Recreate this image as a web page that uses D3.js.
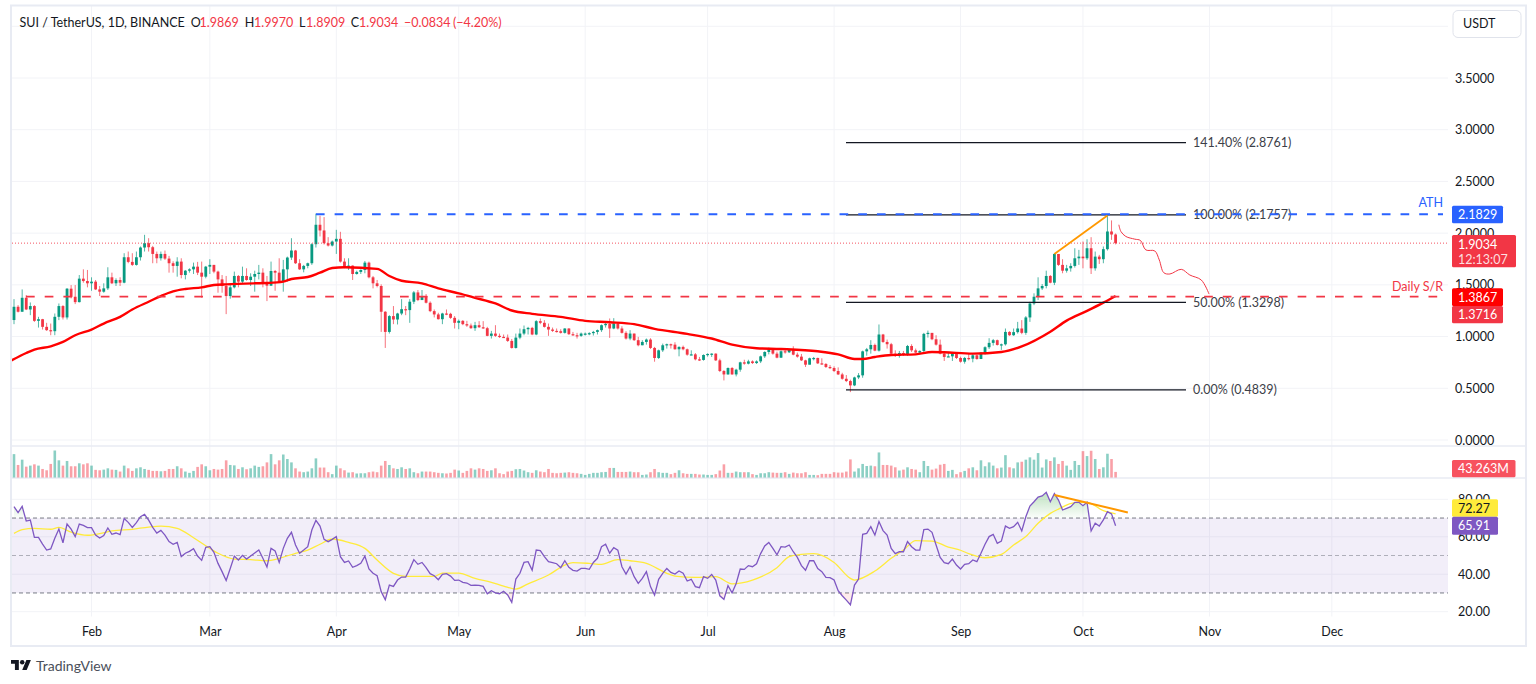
<!DOCTYPE html>
<html>
<head>
<meta charset="utf-8">
<title>SUI / TetherUS</title>
<script src="https://cdn.jsdelivr.net/npm/d3@7/dist/d3.min.js"></script>
<style>
  html, body { margin: 0; padding: 0; background: #fff; }
  svg { display: block; }
  text { font-family: "Lato", sans-serif; }
</style>
</head>
<body>
<svg id="chart" width="1536" height="684"></svg>
<script>
// daily bars, first one is 13 Jan 2024
const closes = [
  1.288,1.240,1.375,1.262,1.295,1.152,1.168,1.094,1.062,1.052,
  1.191,1.295,1.185,1.463,1.385,1.333,1.560,1.537,1.515,1.531,
  1.456,1.434,1.466,1.573,1.515,1.547,1.521,1.767,1.722,1.693,
  1.767,1.861,1.903,1.864,1.799,1.757,1.799,1.754,1.709,1.683,
  1.725,1.595,1.637,1.650,1.676,1.618,1.579,1.676,1.693,1.628,
  1.553,1.489,1.392,1.476,1.586,1.531,1.586,1.547,1.579,1.605,
  1.618,1.515,1.492,1.634,1.618,1.531,1.650,1.764,1.832,1.709,
  1.650,1.683,1.709,1.893,2.081,2.026,1.903,1.880,1.919,1.945,
  1.725,1.667,1.686,1.605,1.625,1.644,1.715,1.573,1.515,1.489,
  1.240,1.045,1.198,1.165,1.223,1.265,1.256,1.337,1.427,1.353,
  1.392,1.327,1.246,1.214,1.168,1.223,1.220,1.181,1.133,1.152,
  1.120,1.107,1.081,1.110,1.090,1.081,1.007,1.029,1.007,0.997,
  0.990,0.958,0.890,0.990,1.029,1.071,1.084,1.020,1.149,1.133,
  1.094,1.068,1.055,1.052,1.036,1.078,1.023,1.013,1.007,1.029,
  1.029,1.033,1.045,1.062,1.110,1.123,1.078,1.126,1.078,1.036,
  0.981,1.029,0.965,0.916,0.948,0.971,0.890,0.793,0.867,0.916,
  0.926,0.922,0.877,0.900,0.877,0.825,0.828,0.780,0.774,0.822,
  0.832,0.835,0.770,0.667,0.634,0.696,0.634,0.680,0.751,0.738,
  0.760,0.744,0.760,0.809,0.851,0.877,0.835,0.796,0.858,0.848,
  0.871,0.825,0.806,0.770,0.728,0.790,0.793,0.741,0.735,0.706,
  0.696,0.667,0.634,0.592,0.570,0.528,0.605,0.625,0.857,0.877,
  0.919,0.864,1.020,0.948,0.926,0.835,0.812,0.841,0.825,0.909,
  0.867,0.845,0.861,1.026,1.036,0.974,0.922,0.835,0.803,0.809,
  0.835,0.793,0.757,0.793,0.786,0.819,0.783,0.845,0.897,0.939,
  0.965,0.919,0.925,1.045,1.013,1.043,1.078,1.036,1.185,1.320,
  1.385,1.466,1.489,1.586,1.521,1.799,1.693,1.637,1.660,1.683,
  1.757,1.773,1.757,1.854,1.660,1.773,1.748,1.845,2.016,1.9869,
  1.9034
];
const highs = [
  1.362,1.304,1.456,1.401,1.330,1.304,1.191,1.171,1.133,1.126,
  1.223,1.320,1.304,1.469,1.498,1.498,1.595,1.650,1.644,1.573,
  1.547,1.489,1.515,1.670,1.618,1.563,1.573,1.806,1.822,1.806,
  1.822,1.871,1.984,1.951,1.877,1.822,1.822,1.832,1.780,1.728,
  1.767,1.757,1.644,1.660,1.715,1.722,1.725,1.683,1.748,1.693,
  1.637,1.595,1.586,1.515,1.628,1.595,1.676,1.660,1.612,1.637,
  1.693,1.660,1.586,1.725,1.644,1.757,1.741,1.773,1.951,1.838,
  1.748,1.693,1.715,1.903,2.188,2.168,2.155,1.961,1.929,2.032,
  2.013,1.757,1.757,1.689,1.637,1.650,1.731,1.725,1.586,1.547,
  1.505,1.246,1.207,1.295,1.230,1.362,1.295,1.362,1.440,1.450,
  1.450,1.411,1.340,1.262,1.230,1.230,1.262,1.230,1.198,1.165,
  1.159,1.152,1.126,1.142,1.149,1.149,1.094,1.055,1.110,1.029,
  1.020,1.020,0.977,1.029,1.078,1.107,1.094,1.094,1.159,1.175,
  1.159,1.126,1.087,1.078,1.071,1.081,1.081,1.045,1.036,1.039,
  1.039,1.042,1.055,1.068,1.117,1.142,1.175,1.178,1.133,1.100,
  1.052,1.062,1.029,0.997,0.965,0.981,0.984,0.900,0.874,0.932,
  0.932,0.932,0.945,0.906,0.913,0.884,0.867,0.841,0.803,0.828,
  0.838,0.838,0.838,0.786,0.676,0.702,0.706,0.689,0.757,0.776,
  0.776,0.770,0.770,0.816,0.858,0.893,0.884,0.854,0.867,0.884,
  0.877,0.906,0.845,0.832,0.776,0.796,0.803,0.796,0.790,0.744,
  0.725,0.712,0.702,0.650,0.628,0.583,0.612,0.647,0.864,0.890,
  0.965,0.932,1.117,1.026,0.971,0.939,0.867,0.861,0.861,0.919,
  0.926,0.884,0.867,1.036,1.058,1.029,1.013,0.971,0.851,0.851,
  0.851,0.841,0.806,0.803,0.835,0.835,0.825,0.851,0.906,0.984,
  0.977,0.971,0.932,1.078,1.052,1.078,1.142,1.159,1.198,1.337,
  1.418,1.573,1.508,1.637,1.595,1.806,1.780,1.748,1.693,1.709,
  1.854,1.838,1.919,1.941,1.961,1.822,1.790,1.871,2.171,2.123,
  1.9970
];
const lows = [
  1.120,1.233,1.240,1.256,1.207,1.142,1.087,1.068,1.055,1.013,
  1.013,1.159,1.165,1.165,1.369,1.314,1.330,1.521,1.476,1.443,
  1.450,1.392,1.424,1.450,1.508,1.489,1.489,1.515,1.709,1.683,
  1.686,1.735,1.822,1.822,1.709,1.709,1.735,1.741,1.618,1.618,
  1.579,1.563,1.553,1.618,1.605,1.595,1.375,1.563,1.605,1.612,
  1.424,1.424,1.217,1.366,1.466,1.476,1.515,1.540,1.489,1.434,
  1.553,1.476,1.343,1.489,1.443,1.521,1.434,1.531,1.741,1.702,
  1.644,1.621,1.660,1.693,1.861,1.968,1.890,1.871,1.871,1.799,
  1.715,1.660,1.644,1.547,1.599,1.605,1.612,1.563,1.466,1.476,
  1.045,0.890,1.029,1.120,1.117,1.207,1.207,1.133,1.314,1.343,
  1.362,1.320,1.236,1.185,1.165,1.120,1.207,1.171,1.078,1.071,
  1.110,1.094,1.075,1.055,1.084,1.075,1.003,0.981,0.997,0.987,
  0.987,0.948,0.884,0.884,0.974,1.013,1.020,1.013,1.013,1.120,
  1.087,1.007,1.045,1.039,1.029,1.029,1.016,1.007,0.981,0.997,
  1.010,1.013,1.010,1.020,1.045,1.087,0.987,1.071,1.068,1.029,
  0.971,0.965,0.958,0.906,0.916,0.922,0.880,0.757,0.783,0.851,
  0.884,0.884,0.874,0.809,0.867,0.815,0.819,0.770,0.764,0.767,
  0.806,0.803,0.764,0.657,0.576,0.631,0.631,0.615,0.660,0.728,
  0.731,0.735,0.735,0.744,0.793,0.828,0.825,0.790,0.793,0.835,
  0.841,0.819,0.796,0.764,0.706,0.731,0.770,0.735,0.728,0.696,
  0.686,0.657,0.628,0.583,0.560,0.463,0.521,0.589,0.602,0.815,
  0.835,0.858,0.855,0.939,0.884,0.819,0.803,0.796,0.812,0.812,
  0.851,0.838,0.832,0.841,0.990,0.965,0.913,0.828,0.764,0.803,
  0.764,0.783,0.748,0.738,0.770,0.751,0.776,0.786,0.825,0.880,
  0.913,0.913,0.871,0.913,1.007,1.007,1.029,1.023,1.017,1.142,
  1.304,1.353,1.450,1.466,1.515,1.498,1.683,1.612,1.618,1.628,
  1.667,1.693,1.660,1.741,1.605,1.637,1.702,1.709,1.832,1.935,
  1.8909
];
const firstOpen = 1.16;
const volumes = [
  181,97,138,84,92,102,92,66,56,105,
  209,133,92,128,87,87,110,102,110,92,
  59,56,61,71,61,59,46,92,71,51,
  71,79,66,59,51,51,48,51,66,66,
  87,71,46,36,51,82,102,87,56,66,
  61,66,133,97,94,66,79,64,71,92,
  82,87,117,181,102,133,178,143,117,71,
  46,41,46,71,148,77,77,41,26,92,
  71,56,38,41,31,33,33,41,46,41,
  92,128,97,71,66,79,66,71,41,33,
  46,46,46,41,36,33,31,36,61,54,
  36,51,71,61,71,66,51,56,71,33,
  26,46,51,64,66,54,41,36,56,46,
  41,66,36,33,36,38,41,36,33,28,
  20,28,36,36,41,43,74,74,43,43,
  43,46,41,41,20,23,41,66,41,36,
  36,26,36,56,33,28,28,28,23,23,
  20,20,26,54,102,36,36,46,41,41,
  41,26,20,33,33,41,38,36,36,41,
  28,38,33,33,41,20,20,18,28,28,
  28,41,38,38,46,140,46,71,105,89,
  92,87,194,97,97,92,79,54,61,79,
  66,61,41,128,89,61,69,99,105,51,
  59,26,41,51,71,79,56,133,87,117,
  92,71,77,173,79,71,117,122,138,156,
  138,189,77,140,128,156,105,128,92,59,
  128,97,204,166,207,143,66,79,184,143,
  43.263
];
const rsi = [
  76.1,72.9,76.2,68.4,68.9,59.7,59.7,56.1,52.9,53.5,
  59.2,64.1,56.8,66.8,64.1,60.1,66.8,66.1,64.9,64.9,
  60.9,59.3,60.6,64.7,61.3,62.0,61.1,69.8,67.7,65.0,
  67.5,70.7,72.0,68.9,65.0,62.0,63.4,60.9,57.4,56.0,
  57.0,49.4,51.2,52.2,53.6,49.7,47.4,54.4,54.7,51.7,
  45.8,41.4,36.7,43.1,49.7,47.6,50.1,48.1,49.7,51.3,
  52.9,48.5,43.9,53.8,52.4,46.3,53.8,59.2,62.4,55.6,
  51.2,52.9,54.7,63.6,68.8,65.7,58.6,57.4,58.6,60.1,
  49.4,46.3,47.1,43.7,44.6,45.8,49.7,42.8,40.5,39.2,
  30.7,26.4,34.2,33.5,36.9,38.5,38.5,42.8,47.8,45.3,
  46.3,43.5,40.3,39.2,37.1,39.9,40.3,39.0,36.7,36.9,
  35.7,35.3,34.1,34.2,34.1,33.5,29.6,31.2,30.1,29.6,
  30.9,28.9,25.0,37.4,40.5,46.3,46.7,42.2,52.9,52.6,
  49.4,46.7,46.2,45.6,43.5,47.2,43.7,42.1,41.7,43.1,
  43.1,42.6,46.3,48.5,54.7,56.0,51.2,54.2,52.9,44.0,
  40.1,44.0,38.7,35.1,37.8,41.4,33.4,28.9,37.3,40.5,
  43.1,41.0,40.1,41.7,40.5,36.4,37.3,33.4,32.8,38.7,
  37.8,39.9,36.9,28.5,26.6,33.9,30.1,35.1,42.8,42.6,
  44.6,44.0,45.6,51.0,55.1,57.0,53.8,50.4,54.7,54.5,
  55.6,52.0,49.0,44.6,42.1,47.2,47.2,43.0,41.4,38.3,
  38.2,36.9,31.2,28.5,26.2,23.7,34.2,37.4,61.3,61.8,
  65.4,60.9,68.1,63.3,60.9,53.8,51.0,52.0,52.0,57.4,
  54.7,52.9,52.9,63.8,64.1,62.4,55.6,49.0,46.2,45.6,
  48.1,44.9,42.8,45.3,45.6,47.6,46.7,51.2,56.0,60.1,
  61.3,56.5,57.7,65.7,64.5,65.4,67.7,63.1,70.7,76.4,
  78.7,81.2,81.8,83.7,78.7,83.0,79.6,74.3,75.2,76.1,
  78.4,78.4,76.6,78.4,63.1,67.2,65.7,69.0,73.4,72.2,
  65.91
];
// the two averages are read at bends only, bar number + value
const emaBars = [-1,3,5,9,12,15,19,22,26,29,33,36,39,42,46,49,52,59,62,66,68,72,75,78,81,89,92,95,100,104,109,113,118,122,127,134,140,146,152,157,165,171,176,182,188,197,202,206,208,211,215,221,225,228,235,242,247,254,258,263,267,270];
const emaValues = [0.761,0.841,0.874,0.906,0.948,1.013,1.068,1.126,1.191,1.262,1.337,1.392,1.437,1.460,1.476,1.498,1.505,1.515,1.518,1.531,1.557,1.576,1.618,1.663,1.670,1.654,1.586,1.540,1.515,1.466,1.418,1.375,1.320,1.252,1.220,1.191,1.152,1.139,1.120,1.075,1.026,0.981,0.922,0.887,0.880,0.858,0.828,0.783,0.783,0.803,0.822,0.828,0.851,0.848,0.835,0.851,0.905,1.047,1.154,1.248,1.328,1.393];
const rsiMaBars = [0,2,5,9,11,14,18,21,24,29,33,36,40,44,47,50,54,58,62,65,69,72,75,78,82,86,89,93,96,103,105,109,113,117,120,123,126,131,135,137,141,144,148,151,155,160,162,167,172,176,181,187,190,193,196,201,205,206,211,215,218,221,225,229,232,234,238,242,245,248,251,254,256,260,263,267,270];
const rsiMaValues = [61.8,63.8,64.5,64.0,65.0,62.5,60.8,61.7,63.1,64.0,65.2,65.7,64.5,59.5,55.2,51.2,48.1,47.8,47.2,48.5,51.2,52.9,56.0,58.8,57.0,53.8,47.6,40.5,38.9,38.9,40.6,40.6,37.8,35.7,33.7,32.1,34.9,39.6,44.9,46.2,45.8,45.3,47.8,47.2,45.8,40.5,39.0,38.3,38.7,34.9,36.9,43.5,49.4,50.6,51.0,46.3,37.8,36.9,41.7,48.5,52.9,57.9,57.7,54.5,52.8,51.0,48.8,50.6,55.6,60.1,67.2,72.5,74.8,78.2,78.4,73.9,72.27];
// hand drawn projection
const sketchBars = [270.8,271.3,272.5,274.7,276.1,277.4,279.6,280.7,281.8,283.3,286.1,288.2,291,292.9];
const sketchValues = [2.081,2.016,1.968,1.942,1.929,1.838,1.828,1.741,1.618,1.605,1.650,1.595,1.547,1.411];
const fibLevels = ['141.40%','100.00%','50.00%','0.00%'];
const fibValues = [2.8761,2.1757,1.3298,0.4839];
const priceTicks = [0,0.5,1,1.5,2,2.5,3,3.5];
const rsiTicks = [20,40,60,80];
const rsiLevels = [70,50,30];
const athLevel = 2.1829;
const srLevel = 1.3867;
const emaLast = 1.3716;

const GREEN = '#089981', RED = '#f23645', BLUE = '#2962ff', ORANGE = '#ff9800';
const PURPLE = '#7e57c2', YELLOW = '#ffeb3b', GRID = '#f2f3f7', INK = '#131722', EDGE = '#e8ebf3';
const FONT = '"Lato", sans-serif';
const paneLeft = 12, paneRight = 1448, frameRight = 1526;
const DAY_PX = 4.08;

const svg = d3.select('#chart');
const firstDay = new Date(Date.UTC(2024, 0, 13));
const lastDay = d3.utcDay.offset(firstDay, 360);
const x = d3.scaleUtc().domain([firstDay, lastDay]).range([14, 14 + 360 * DAY_PX]);
const xBar = i => x(firstDay) + i * DAY_PX;
const y = d3.scaleLinear().domain([0, 3.5]).range([440, 78]);
const yVol = d3.scaleLinear().domain([0, 209]).range([477.5, 450.5]);
const yRsi = d3.scaleLinear().domain([20, 80]).range([611.7, 499.3]);

const bars = closes.map((c, i) => ({
  i, close: c, high: highs[i], low: lows[i],
  open: i ? closes[i - 1] : firstOpen,
  volume: volumes[i], rsi: rsi[i]
}));

const defs = svg.append('defs');
defs.append('clipPath').attr('id', 'pane').append('rect')
  .attr('x', paneLeft).attr('y', 6).attr('width', paneRight - paneLeft).attr('height', 611);
defs.append('clipPath').attr('id', 'above70').append('rect')
  .attr('x', paneLeft).attr('y', 480).attr('width', paneRight - paneLeft).attr('height', yRsi(70) - 480);
defs.append('clipPath').attr('id', 'below30').append('rect')
  .attr('x', paneLeft).attr('y', yRsi(30)).attr('width', paneRight - paneLeft).attr('height', 40);
const grad = defs.append('linearGradient').attr('id', 'obFill')
  .attr('gradientUnits', 'userSpaceOnUse').attr('x1', 0).attr('x2', 0).attr('y1', yRsi(85)).attr('y2', yRsi(70));
grad.append('stop').attr('offset', 0).attr('stop-color', '#4caf50').attr('stop-opacity', 0.4);
grad.append('stop').attr('offset', 1).attr('stop-color', '#4caf50').attr('stop-opacity', 0.02);

// grid first
const monthTicks = d3.utcMonth.range(new Date(Date.UTC(2024, 1, 1)), new Date(Date.UTC(2024, 11, 2)));
svg.append('g').selectAll('line').data(monthTicks).join('line')
  .attr('x1', d => x(d)).attr('x2', d => x(d)).attr('y1', 6).attr('y2', 616.5)
  .attr('stroke', GRID).attr('stroke-width', 1);
svg.append('g').selectAll('line').data([...priceTicks, 4]).join('line')
  .attr('x1', paneLeft).attr('x2', paneRight).attr('y1', d => y(d)).attr('y2', d => y(d))
  .attr('stroke', GRID).attr('stroke-width', 1);
svg.append('g').selectAll('line').data(rsiTicks).join('line')
  .attr('x1', paneLeft).attr('x2', paneRight).attr('y1', d => yRsi(d)).attr('y2', d => yRsi(d))
  .attr('stroke', GRID).attr('stroke-width', 1);

// frame and pane separators
svg.append('rect').attr('x', 11).attr('y', 5.5).attr('width', frameRight - 11).attr('height', 640.5)
  .attr('fill', 'none').attr('stroke', EDGE).attr('stroke-width', 2);
svg.append('g').selectAll('line').data([446, 478]).join('line')
  .attr('x1', 11).attr('x2', frameRight).attr('y1', d => d).attr('y2', d => d)
  .attr('stroke', EDGE).attr('stroke-width', 1.5);

// rsi pane
svg.append('rect').attr('x', paneLeft).attr('width', paneRight - paneLeft)
  .attr('y', yRsi(70)).attr('height', yRsi(30) - yRsi(70))
  .attr('fill', PURPLE).attr('fill-opacity', 0.1);
svg.append('g').selectAll('line').data(rsiLevels).join('line')
  .attr('x1', paneLeft).attr('x2', paneRight).attr('y1', d => yRsi(d)).attr('y2', d => yRsi(d))
  .attr('stroke', '#787b86').attr('stroke-width', 1).attr('stroke-dasharray', '4 3')
  .attr('stroke-opacity', d => d === 50 ? 0.55 : 1);
const rsiArea = level => d3.area().x(d => xBar(d.i)).y0(yRsi(level)).y1(d => yRsi(d.rsi));
svg.append('path').datum(bars).attr('d', rsiArea(70))
  .attr('clip-path', 'url(#above70)').attr('fill', 'url(#obFill)');
svg.append('path').datum(bars).attr('d', rsiArea(30))
  .attr('clip-path', 'url(#below30)').attr('fill', RED).attr('fill-opacity', 0.1);
const lineMaRsi = d3.line().x((d, i) => xBar(rsiMaBars[i])).y(d => yRsi(d)).curve(d3.curveMonotoneX);
svg.append('path').attr('d', lineMaRsi(rsiMaValues))
  .attr('fill', 'none').attr('stroke', YELLOW).attr('stroke-width', 1.3);
const lineRsi = d3.line().x(d => xBar(d.i)).y(d => yRsi(d.rsi));
svg.append('path').datum(bars).attr('d', lineRsi)
  .attr('fill', 'none').attr('stroke', PURPLE).attr('stroke-width', 1.3);
const rsiTrend = d3.line().x(d => xBar(d[0])).y(d => yRsi(d[1]));
svg.append('path').attr('d', rsiTrend([[255, 82.3], [273, 73]]))
  .attr('stroke', ORANGE).attr('stroke-width', 2).attr('fill', 'none');

// volume
svg.append('g').selectAll('rect').data(bars).join('rect')
  .attr('x', d => xBar(d.i) - 1.3).attr('width', 2.6)
  .attr('y', d => yVol(d.volume)).attr('height', d => yVol(0) - yVol(d.volume))
  .attr('fill', d => d.close >= d.open ? GREEN : RED).attr('fill-opacity', 0.47);

// candles
const candles = svg.append('g').attr('clip-path', 'url(#pane)');
candles.selectAll('line').data(bars).join('line')
  .attr('x1', d => xBar(d.i)).attr('x2', d => xBar(d.i))
  .attr('y1', d => y(d.high)).attr('y2', d => y(d.low))
  .attr('stroke', d => d.close >= d.open ? GREEN : RED).attr('stroke-width', 1).attr('stroke-opacity', 0.7);
candles.selectAll('rect').data(bars).join('rect')
  .attr('x', d => xBar(d.i) - 1.4).attr('width', 2.8)
  .attr('y', d => y(Math.max(d.open, d.close)))
  .attr('height', d => Math.max(1.2, Math.abs(y(d.open) - y(d.close))))
  .attr('fill', d => d.close >= d.open ? GREEN : RED);

// last price dotted
svg.append('line').attr('x1', paneLeft).attr('x2', paneRight)
  .attr('y1', y(closes[closes.length - 1])).attr('y2', y(closes[closes.length - 1]))
  .attr('stroke', RED).attr('stroke-width', 1).attr('stroke-dasharray', '1 2').attr('stroke-opacity', 0.85);

// ema
const lineEma = d3.line().x((d, i) => xBar(emaBars[i])).y(d => y(d)).curve(d3.curveMonotoneX);
svg.append('path').attr('d', lineEma(emaValues)).attr('clip-path', 'url(#pane)')
  .attr('fill', 'none').attr('stroke', '#ff0000').attr('stroke-width', 2.4);

// fib retracement
const fibLeft = 846, fibRight = 1186;
svg.append('g').selectAll('line').data(fibValues).join('line')
  .attr('x1', fibLeft).attr('x2', fibRight).attr('y1', d => y(d)).attr('y2', d => y(d))
  .attr('stroke', INK).attr('stroke-width', 1.3);
svg.append('g').selectAll('text').data(fibValues).join('text')
  .attr('x', 1193).attr('y', d => y(d) + 4.5).attr('font-size', 12.5).attr('fill', '#3c4048')
  .text((d, i) => `${fibLevels[i]} (${d.toFixed(4)})`);

// horizontal levels
svg.append('line').attr('x1', xBar(74)).attr('x2', 1443).attr('y1', y(athLevel)).attr('y2', y(athLevel))
  .attr('stroke', BLUE).attr('stroke-width', 1.8).attr('stroke-dasharray', '8.7 10');
svg.append('line').attr('x1', 26).attr('x2', 1443).attr('y1', y(srLevel)).attr('y2', y(srLevel))
  .attr('stroke', RED).attr('stroke-width', 1.8).attr('stroke-dasharray', '8.7 10');
svg.append('text').attr('x', 1443).attr('y', 207).attr('text-anchor', 'end')
  .attr('font-size', 12.5).attr('fill', BLUE).text('ATH');
svg.append('text').attr('x', 1443).attr('y', 291).attr('text-anchor', 'end')
  .attr('font-size', 12.5).attr('fill', RED).text('Daily S/R');

// trend line and sketch
const trend = d3.line().x(d => xBar(d[0])).y(d => y(d[1]));
svg.append('path').attr('d', trend([[255, closes[255]], [268, highs[268]]]))
  .attr('stroke', ORANGE).attr('stroke-width', 1.8).attr('fill', 'none');
const sketch = d3.line().x((d, i) => xBar(sketchBars[i])).y(d => y(d)).curve(d3.curveCatmullRom);
svg.append('path').attr('d', sketch(sketchValues))
  .attr('fill', 'none').attr('stroke', RED).attr('stroke-width', 1);

// axes
const yAxis = d3.axisRight(y).tickValues(priceTicks).tickSize(0).tickFormat(d3.format('.4f'));
const gY = svg.append('g').attr('transform', 'translate(1452,0)').call(yAxis);
const rAxis = d3.axisRight(yRsi).tickValues(rsiTicks).tickSize(0).tickFormat(d3.format('.2f'));
const gR = svg.append('g').attr('transform', 'translate(1455,0)').call(rAxis);
const xAxis = d3.axisBottom(x).tickValues(monthTicks).tickSize(0).tickFormat(d3.utcFormat('%b'));
const gX = svg.append('g').attr('transform', 'translate(0,624)').call(xAxis);
[gY, gR, gX].forEach(g => {
  g.select('.domain').remove();
  g.selectAll('text').attr('font-family', FONT).attr('font-size', 12.5).attr('fill', INK);
});

// header
const headerParts = [
  [19.5, 'SUI / TetherUS, 1D, BINANCE', INK], [190.7, 'O', INK], [199.5, '1.9869', RED],
  [244.7, 'H', INK], [254, '1.9970', RED], [299, 'L', INK], [306, '1.8909', RED],
  [350.7, 'C', INK], [359, '1.9034', RED], [404, '\u22120.0834', RED], [453, '(\u22124.20%)', RED]
];
svg.append('g').selectAll('text').data(headerParts).join('text')
  .attr('x', d => d[0]).attr('y', 27).attr('font-size', 12.5).attr('fill', d => d[2]).text(d => d[1]);

// currency button
svg.append('rect').attr('x', 1453).attr('y', 10.5).attr('width', 68).attr('height', 27).attr('rx', 5)
  .attr('fill', '#fff').attr('stroke', '#e0e3eb');
svg.append('text').attr('x', 1463).attr('y', 28).attr('font-size', 12.5).attr('fill', INK).text('USDT');

// right side price tags
const tags = [
  { top: 205.7, h: 17.6, w: 51, fill: BLUE, text: d3.format('.4f')(athLevel), ink: '#fff' },
  { top: 288.3, h: 17.7, w: 51, fill: '#ff0000', text: d3.format('.4f')(srLevel), ink: '#fff' },
  { top: 306, h: 17.3, w: 51, fill: RED, text: d3.format('.4f')(emaLast), ink: '#fff' },
  { top: 460, h: 17.3, w: 63.5, fill: '#f7525f', text: `${d3.format('.3f')(volumes[volumes.length - 1])}M`, ink: '#fff' },
  { top: 499.3, h: 17.4, w: 46, fill: YELLOW, text: d3.format('.2f')(rsiMaValues[rsiMaValues.length - 1]), ink: INK },
  { top: 516.7, h: 18, w: 46, fill: PURPLE, text: d3.format('.2f')(rsi[rsi.length - 1]), ink: '#fff' }
];
const tagG = svg.append('g').selectAll('g').data(tags).join('g');
tagG.append('rect').attr('x', 1452).attr('y', d => d.top).attr('width', d => d.w).attr('height', d => d.h)
  .attr('rx', 1.5).attr('fill', d => d.fill);
tagG.append('text').attr('x', 1458).attr('y', d => d.top + d.h / 2 + 4.5)
  .attr('font-size', 12.5).attr('fill', d => d.ink).text(d => d.text);
svg.append('rect').attr('x', 1452).attr('y', 235).attr('width', 64).attr('height', 32.3)
  .attr('rx', 1.5).attr('fill', RED);
svg.append('text').attr('x', 1458).attr('y', 248.5).attr('font-size', 12.5).attr('fill', '#fff')
  .text(d3.format('.4f')(closes[closes.length - 1]));
svg.append('text').attr('x', 1458).attr('y', 263.5).attr('font-size', 12.5).attr('fill', '#fff')
  .attr('fill-opacity', 0.85).text('12:13:07');

// logo
const logo = svg.append('g').attr('transform', 'translate(11,657.7) scale(0.56)').attr('fill', '#131722');
logo.append('path').attr('d', 'M14 22H7V11H0V4h14v18zM28 22h-8l7.5-18h8L28 22z');
logo.append('circle').attr('cx', 20).attr('cy', 8).attr('r', 4);
svg.append('text').attr('x', 36).attr('y', 671).attr('font-size', 14).attr('fill', '#4a4f5a').text('TradingView');
</script>
</body>
</html>
